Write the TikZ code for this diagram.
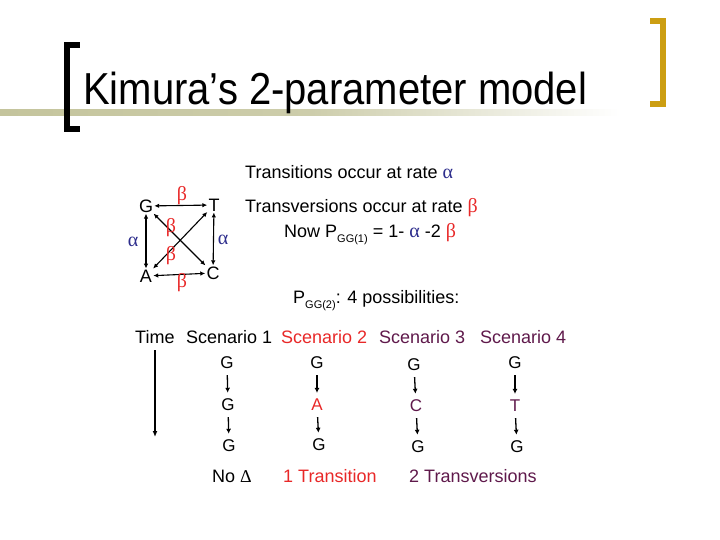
\documentclass[tikz,border=0pt]{standalone}
\usepackage{fontspec}
\setmainfont{Liberation Sans}
\newfontfamily\greekf{Liberation Serif}
\usetikzlibrary{arrows.meta}
\definecolor{myred}{RGB}{232,40,40}
\definecolor{myblue}{RGB}{45,45,140}
\definecolor{mypurple}{RGB}{95,25,75}
\definecolor{gold}{RGB}{204,158,18}
\definecolor{oliveb}{RGB}{196,196,156}
\newcommand{\alp}{{\greekf\fontsize{20}{22}\selectfont α}}
\newcommand{\bet}{{\greekf\fontsize{20}{22}\selectfont β}}
\begin{document}
\begin{tikzpicture}[x=1pt,y=-1pt,
  txt/.style={anchor=base west, inner sep=0pt, font=\fontsize{18}{21}\selectfont},
  base/.style={inner sep=1pt, font=\fontsize{18}{21}\selectfont},
  colletter/.style={inner sep=1pt, font=\fontsize{17}{20}\selectfont},
  glbl/.style={inner sep=0pt},
  dbl/.style={{Latex[length=5pt,width=4.5pt]}-{Latex[length=5pt,width=4.5pt]}, line width=1.1pt},
  down/.style={-{Latex[length=5pt,width=5pt]}, line width=1.3pt, shorten >=5pt, shorten <=5pt}
]
\useasboundingbox (0,0) rectangle (720,540);
% title decoration
\shade[left color=oliveb, right color=white, middle color=oliveb!85] (0,110) rectangle (620,116);
\fill (64,42) rectangle (70,132);
\fill (64,42) rectangle (80,48);
\fill (64,126) rectangle (80,132);
\fill[gold] (660,18) rectangle (666,107);
\fill[gold] (650,18) rectangle (666,24);
\fill[gold] (650,101) rectangle (666,107);
\node[anchor=base west, inner sep=0pt, font=\fontsize{40}{46}\selectfont] (title) at (83,105) {\scalebox{1}[1.12]{Kimura’s 2-parameter model}};

% substitution diagram
\node[base] (G) at (146,206) {G};
\node[base] (T) at (214,205) {T};
\node[base] (A) at (146,276) {A};
\node[base] (C) at (213,273) {C};
\draw[dbl] (G) -- (T);
\draw[dbl] (A) -- (C);
\draw[dbl] (G) -- (A);
\draw[dbl] (T) -- (C);
\draw[dbl] (G) -- (C);
\draw[dbl] (A) -- (T);
\node[glbl, text=myred] (b1) at (182,196) {\bet};
\node[glbl, text=myred] (b2) at (171,228) {\bet};
\node[glbl, text=myred] (b3) at (171,256) {\bet};
\node[glbl, text=myred] (b4) at (182,283) {\bet};
\node[glbl, text=myblue] (a1) at (133,242) {\alp};
\node[glbl, text=myblue] (a2) at (223,240) {\alp};

% texts
\node[txt] (t1) at (245,179) {Transitions occur at rate \textcolor{myblue}{\alp}};
\node[txt] (t2) at (245,213) {Transversions occur at rate \textcolor{myred}{\bet}};
\node[txt] (t3) at (284,237) {Now P\raisebox{-5pt}{\fontsize{11}{13}\selectfont GG(1)} = 1- \textcolor{myblue}{\alp} -2 \textcolor{myred}{\bet}};
\node[txt] (t4) at (293,303) {P\raisebox{-5pt}{\fontsize{11}{13}\selectfont GG(2)}: 4 possibilities:};

% scenarios
\node[txt] (time) at (135,343) {Time};
\coordinate (ts) at (155,350);
\coordinate (te) at (155,437);
\draw[-{Latex[length=6pt,width=5pt]}, line width=1.2pt] (ts) -- (te);
\node[txt] (s1) at (186,343) {Scenario 1};
\node[txt, text=myred] (s2) at (281,343) {Scenario 2};
\node[txt, text=mypurple] (s3) at (379,343) {Scenario 3};
\node[txt, text=mypurple] (s4) at (480,343) {Scenario 4};

\node[colletter] (c1a) at (227,363) {G};
\node[colletter] (c1b) at (228,405) {G};
\node[colletter] (c1c) at (229,446) {G};
\node[colletter] (c2a) at (317,363) {G};
\node[colletter, text=myred] (c2b) at (317,405) {A};
\node[colletter] (c2c) at (319,445) {G};
\node[colletter] (c3a) at (414,365) {G};
\node[colletter, text=mypurple] (c3b) at (416,406) {C};
\node[colletter] (c3c) at (418,447) {G};
\node[colletter] (c4a) at (515,363) {G};
\node[colletter, text=mypurple] (c4b) at (515,406) {T};
\node[colletter] (c4c) at (517,447) {G};
\foreach \a/\b in {c1a/c1b,c1b/c1c,c2a/c2b,c2b/c2c,c3a/c3b,c3b/c3c,c4a/c4b,c4b/c4c}
  \draw[down] (\a) -- (\b);

\node[txt] (n1) at (212,482) {No {\greekf Δ}};
\node[txt, text=myred] (n2) at (283,482) {1 Transition};
\node[txt, text=mypurple] (n3) at (409,482) {2 Transversions};
\end{tikzpicture}
\end{document}
